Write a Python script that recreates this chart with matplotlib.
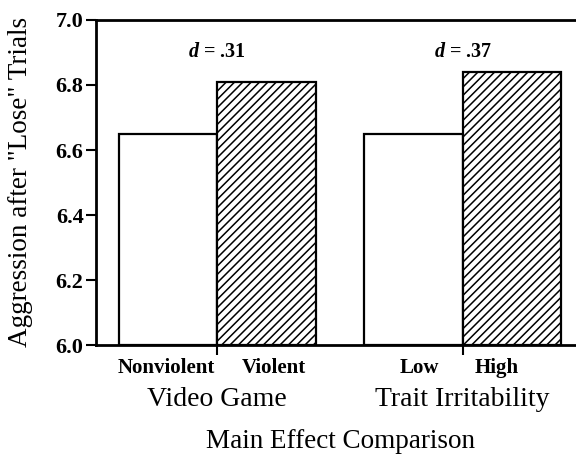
import matplotlib
matplotlib.use('Agg')
import matplotlib.pyplot as plt
import numpy as np

# Data
conditions = ['Nonviolent', 'Violent', 'Low', 'High']
groups = ['Video Game', 'Trait Irritability']
means = [6.65, 6.81, 6.65, 6.84]
effect_sizes = ['.31', '.37']
y_ticks = [6.0, 6.2, 6.4, 6.6, 6.8, 7.0]

plt.rcParams['font.family'] = 'Liberation Serif'
plt.rcParams['mathtext.fontset'] = 'custom'
plt.rcParams['mathtext.it'] = 'Liberation Serif:italic:bold'
plt.rcParams['hatch.linewidth'] = 1.1

fig = plt.figure(figsize=(5.76, 4.54), dpi=100)
ax = fig.add_axes([0.1667, 0.24, 0.8333, 0.716])

x = np.array([0.5, 1.5, 2.99, 3.99])
hatches = ['', '////', '', '////']
for xi, m, h in zip(x, means, hatches):
    ax.bar(xi, m - 6.0, bottom=6.0, width=1.0, facecolor='white',
           edgecolor='black', linewidth=1.6, hatch=h)

ax.set_xlim(-0.23, 4.64)
ax.set_ylim(6.0, 7.0)
ax.set_yticks(y_ticks)
ax.set_yticklabels(['%.1f' % t for t in y_ticks], fontsize=16, fontweight='bold')
ax.tick_params(axis='y', direction='out', length=7, width=1.5, pad=2)

# boundaries between bars get the small tick marks
ax.set_xticks([1.0, 3.49])
ax.set_xticklabels(['', ''])
ax.tick_params(axis='x', direction='out', length=7, width=1.5)
# condition labels sit a little off the bar centres in the original
label_x = x + np.array([-0.02, 0.07, 0.06, -0.15])
ax.set_xticks(label_x, minor=True)
ax.set_xticklabels(conditions, minor=True, fontsize=15, fontweight='bold')
ax.tick_params(axis='x', which='minor', length=0, pad=9)

for s in ['left', 'bottom', 'top']:
    ax.spines[s].set_linewidth(2)
ax.spines['right'].set_visible(False)

for xc, d in zip([1.0, 3.49], effect_sizes):
    ax.text(xc, 6.9, r'$d$ = ' + d, ha='center', va='center',
            fontsize=14.5, fontweight='bold')

for xc, g in zip([1.0, 3.49], groups):
    fig.text(ax.transData.transform((xc, 6.0))[0] / fig.dpi / 5.76, 1 - 399 / 454,
             g, ha='center', va='center', fontsize=20)

fig.text(340 / 576, 1 - 441 / 454, 'Main Effect Comparison',
         ha='center', va='center', fontsize=19.5)
fig.text(21 / 576, 1 - 182 / 454, 'Aggression after "Lose" Trials',
         ha='center', va='center', rotation=90, fontsize=19.5)

fig.savefig('out.png', dpi=100)
